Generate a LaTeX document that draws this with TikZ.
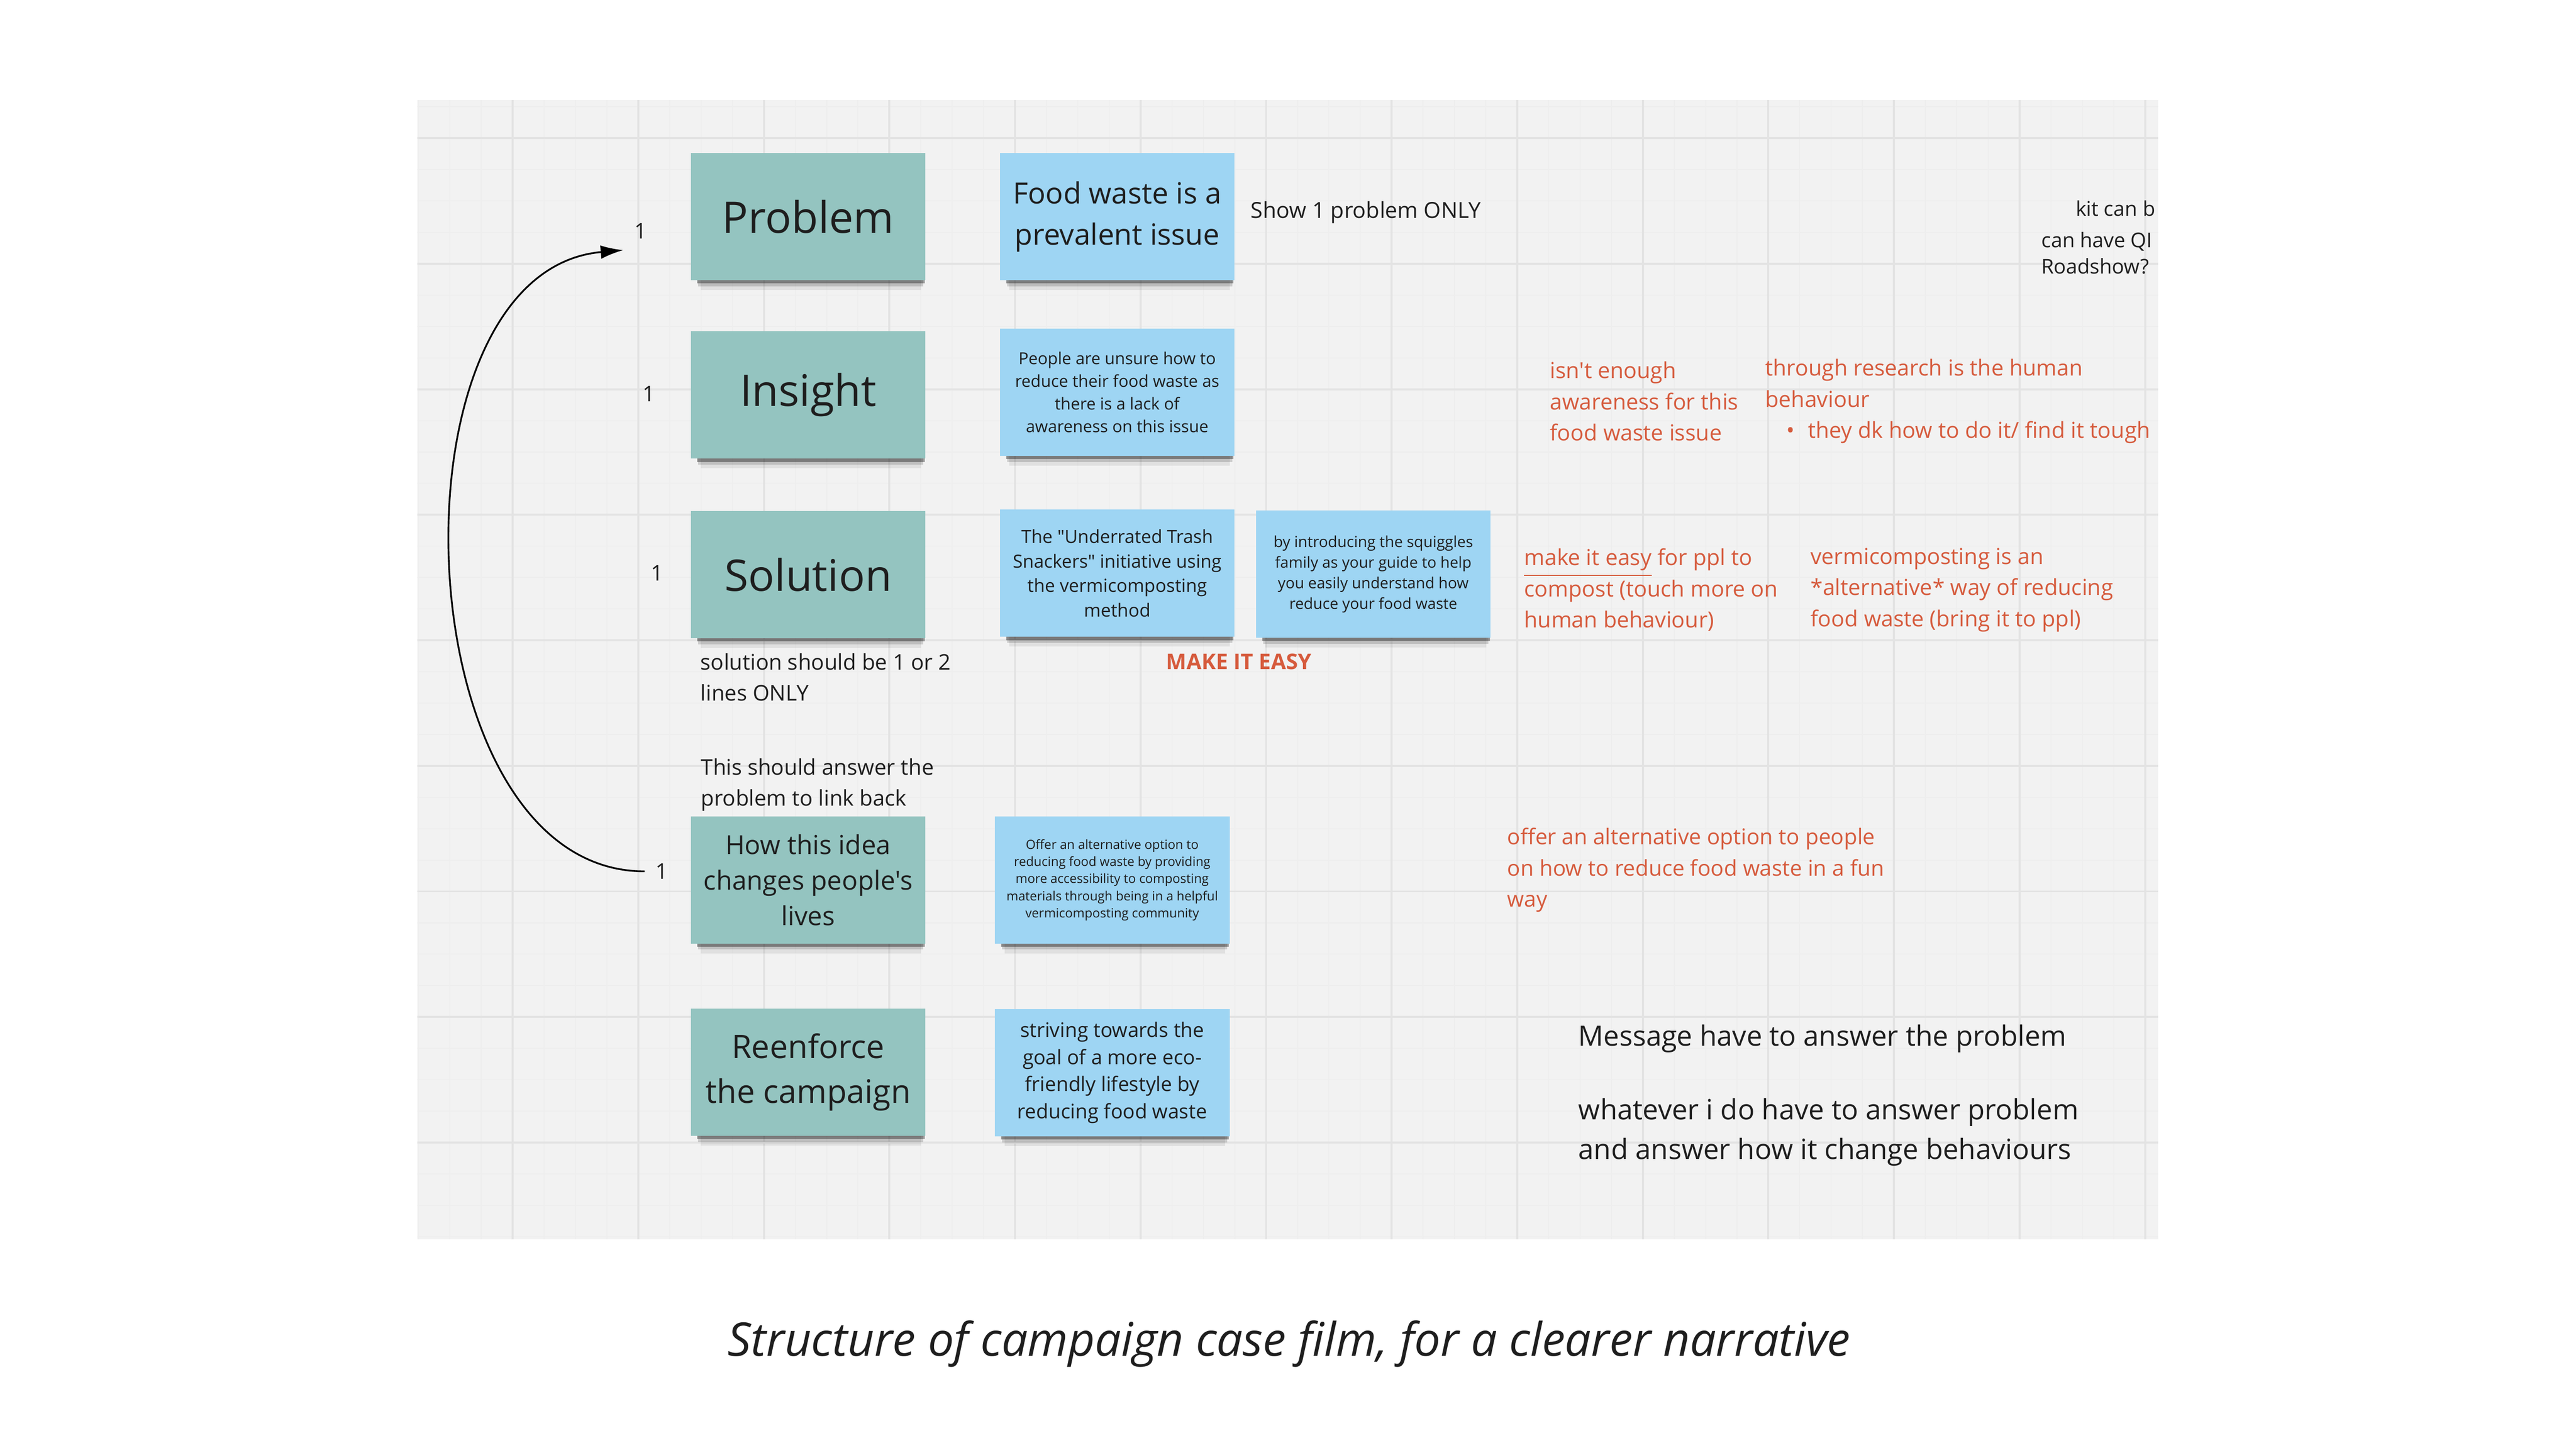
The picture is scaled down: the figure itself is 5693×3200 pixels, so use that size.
\documentclass[tikz,border=0pt]{standalone}
\usepackage{fontspec}
\setmainfont{Open Sans}[Ligatures=TeXOff]
\usetikzlibrary{shadows,arrows.meta}

\definecolor{boardgrey}{HTML}{F2F2F2}
\definecolor{gridminor}{HTML}{EEEEEE}
\definecolor{gridmajor}{HTML}{E3E3E3}
\definecolor{stickyteal}{HTML}{94C4C0}
\definecolor{stickyblue}{HTML}{9ED5F3}
\definecolor{notered}{HTML}{D65B3D}
\definecolor{inkblack}{HTML}{1E1E1E}

\newcommand{\setfs}[2]{\fontsize{#1}{#2}\selectfont}

\tikzset{
  sticky/.style={rectangle, minimum width=2.595cm, minimum height=1.405cm, inner sep=0pt, align=center, text=inkblack,
    drop shadow={shadow xshift=0.03cm, shadow yshift=-0.06cm, shadow scale=0.97, opacity=0.35, fill=black},
    drop shadow={shadow xshift=0.03cm, shadow yshift=-0.10cm, shadow scale=0.96, opacity=0.15, fill=black},
    drop shadow={shadow xshift=0.03cm, shadow yshift=-0.16cm, shadow scale=0.94, opacity=0.07, fill=black}},
  tealnote/.style={sticky, fill=stickyteal},
  bluenote/.style={sticky, fill=stickyblue},
  remark/.style={anchor=west, align=left, inner sep=0pt, text=inkblack, font=\setfs{6.8}{9.8}},
  redremark/.style={remark, text=notered, font=\setfs{6.95}{9.8}},
  tally/.style={text=inkblack, font=\setfs{6.8}{8}}
}

\begin{document}
\begin{tikzpicture}[x=0.005cm, y=-0.005cm]

        % Page and board
        \fill[white] (0,0) rectangle (5693,3200);
        \useasboundingbox (0,0) rectangle (5693,3200);
        \fill[boardgrey] (922,221) rectangle (4770,2740);

        % Loop to draw the board grid, every fourth line a little darker
        \foreach \i in {0,...,55}
            \draw[gridminor, line width=0.012cm] ({925+\i*69.375},221) -- ({925+\i*69.375},2740);
        \foreach \j in {0,...,36}
            \draw[gridminor, line width=0.012cm] (922,{236+\j*69.375}) -- (4770,{236+\j*69.375});
        \foreach \i in {3,7,...,55}
            \draw[gridmajor, line width=0.022cm] ({925+\i*69.375},221) -- ({925+\i*69.375},2740);
        \foreach \j in {1,5,...,33}
            \draw[gridmajor, line width=0.022cm] (922,{236+\j*69.375}) -- (4770,{236+\j*69.375});

        % Loop to place the teal stickies down the left column
        \foreach \name/\y/\size/\lead/\txt in {prob/479/13.7/18.6/Problem, ins/873/13.7/18.6/Insight, sol/1270/13.7/18.6/Solution, how/1945/8.25/11.2/{How this idea\\changes people's\\lives}, reen/2370/10.2/14/{Reenforce\\the campaign}} {
            \node[tealnote, font=\setfs{\size}{\lead}] (\name) at (1786,\y) {\txt};
        }

        % Loop to number the rows
        \foreach \name/\x/\y in {prob/1416/511, ins/1434/871, sol/1452/1267, how/1463/1926}
            \node[tally] (one-\name) at (\x,\y) {1};

        % Blue stickies
        \node[bluenote, font=\setfs{9.2}{12.9}] (food) at (2469,479) {Food waste is a\\prevalent issue};
        \node[bluenote, font=\setfs{5.2}{7.1}] (unsure) at (2469,867) {People are unsure how to\\reduce their food waste as\\there is a lack of\\awareness on this issue};
        \node[bluenote, font=\setfs{5.7}{7.7}] (snackers) at (2469,1267) {The "Underrated Trash\\Snackers" initiative using\\the vermicomposting\\method};
        \node[bluenote, font=\setfs{4.8}{6.5}] (squiggles) at (3035,1269) {by introducing the squiggles\\family as your guide to help\\you easily understand how\\reduce your food waste};
        \node[bluenote, font=\setfs{4.0}{5.4}] (offer) at (2458,1945) {Offer an alternative option to\\reducing food waste by providing\\more accessibility to composting\\materials through being in a helpful\\vermicomposting community};
        \node[bluenote, font=\setfs{6.3}{8.5}] (striving) at (2458,2371) {striving towards the\\goal of a more eco-\\friendly lifestyle by\\reducing food waste};

        % Notes in black
        \node[remark, font=\setfs{6.95}{9.5}] (onlyone) at (2763,469) {Show 1 problem ONLY};
        \node[remark] (solnote) at (1547,1497) {solution should be 1 or 2\\lines ONLY};
        \node[remark] (linkback) at (1548,1735) {This should answer the\\problem to link back};
        \node[remark, font=\setfs{8.8}{12.5}] (message) at (3487,2296) {Message have to answer the problem};
        \node[remark, font=\setfs{8.8}{12.5}] (whatever) at (3487,2503) {whatever i do have to answer problem\\and answer how it change behaviours};
        \begin{scope}
            \clip (922,221) rectangle (4770,2740);
            \node[remark, font=\setfs{6.4}{8.25}] (kit) at (4586,461) {kit can b};
            \node[remark, font=\setfs{6.4}{8.25}] (qrnote) at (4510,559) {can have QI\\Roadshow?};
        \end{scope}

        % Notes in red
        \node[font=\bfseries\setfs{6.8}{9.8}, text=notered] (easy) at (2738,1463) {MAKE IT EASY};
        \node[redremark] (aware) at (3424,887) {isn't enough\\awareness for this\\food waste issue};
        \node[redremark] (research) at (3900,887) {through research is the human\\behaviour\\\hspace*{0.95em}•\hspace{0.6em}they dk how to do it/ find it tough};
        \node[redremark] (easynote) at (3367,1304) {\underline{make it easy} for ppl to\\compost (touch more on\\human behaviour)};
        \node[redremark] (alternative) at (4000,1304) {vermicomposting is an\\*alternative* way of reducing\\food waste (bring it to ppl)};
        \node[redremark, font=\setfs{6.85}{9.8}] (funway) at (3330,1923) {offer an alternative option to people\\on how to reduce food waste in a fun\\way};

        % Link back from the last row to the problem
        \draw[-{Latex[length=0.25cm, width=0.15cm]}, line width=0.55pt] (one-how.west) to[out=180, in=185] (one-prob.south west);

        % Caption
        \node[font=\itshape\setfs{14.6}{18}, text=inkblack] (caption) at (2849,2970) {Structure of campaign case film, for a clearer narrative};

    \end{tikzpicture}
\end{document}
